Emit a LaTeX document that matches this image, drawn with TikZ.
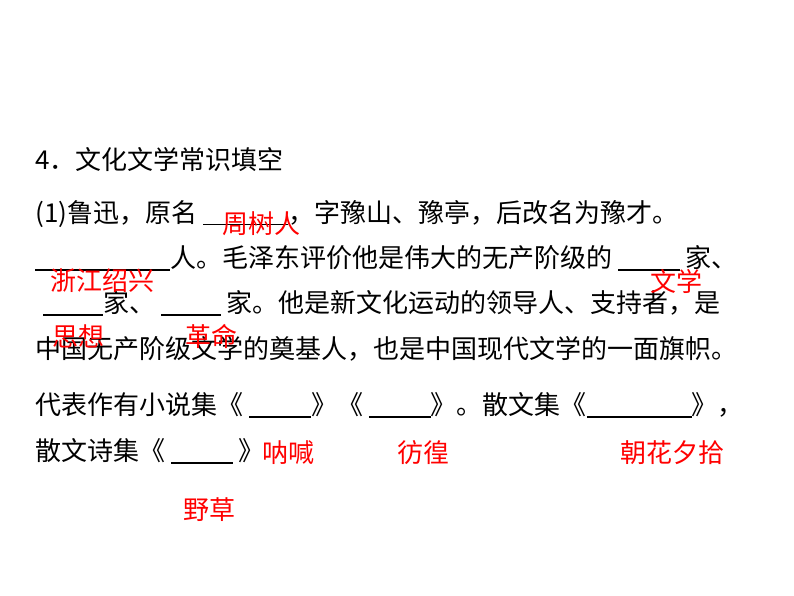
\documentclass[tikz,border=0pt]{standalone}
\usepackage{fontspec}
\newfontfamily\cjk{Noto Sans CJK SC}
\newlength\px \setlength\px{0.75pt}
\newcommand\bl[1]{\rule[-3\px]{#1\px}{1.2pt}}
\begin{document}
\begin{tikzpicture}[x=0.75pt,y=-0.75pt,
  line/.style={anchor=west,inner sep=0pt,font=\cjk\fontsize{19.5pt}{20pt}\selectfont},
  ans/.style={anchor=west,inner sep=0pt,text=red,font=\cjk\fontsize{19.5pt}{20pt}\selectfont}]
\useasboundingbox (0,0) rectangle (794,596);
\node[line] (l1) at (35,160) {4．文化文学常识填空};
\node[line] (l2) at (35,214) {(1)鲁迅，原名 \bl{85}，字豫山、豫亭，后改名为豫才。};
\node[line] (l3) at (35,258) {\bl{135}人。毛泽东评价他是伟大的无产阶级的 \bl{62} 家、};
\node[line] (l4) at (35,303) {\hspace{8\px}\bl{60}家、 \bl{60} 家。他是新文化运动的领导人、支持者，是};
\node[line] (l5) at (35,349) {中国无产阶级文学的奠基人，也是中国现代文学的一面旗帜。};
\node[line] (l6) at (35,405) {代表作有小说集《 \bl{62}》《 \bl{62}》。散文集《\bl{105}》，};
\node[line] (l7) at (35,451) {散文诗集《 \bl{62} 》};
\node[ans] (a1) at (222,224) {周树人};
\node[ans] (a2) at (50,281) {浙江绍兴};
\node[ans] (a3) at (650,281) {文学};
\node[ans] (a4) at (52,336) {思想};
\node[ans] (a5) at (185,336) {革命};
\node[ans] (a6) at (262,453) {呐喊};
\node[ans] (a7) at (397,453) {彷徨};
\node[ans] (a8) at (620,453) {朝花夕拾};
\node[ans] (a9) at (183,510) {野草};
\end{tikzpicture}
\end{document}
